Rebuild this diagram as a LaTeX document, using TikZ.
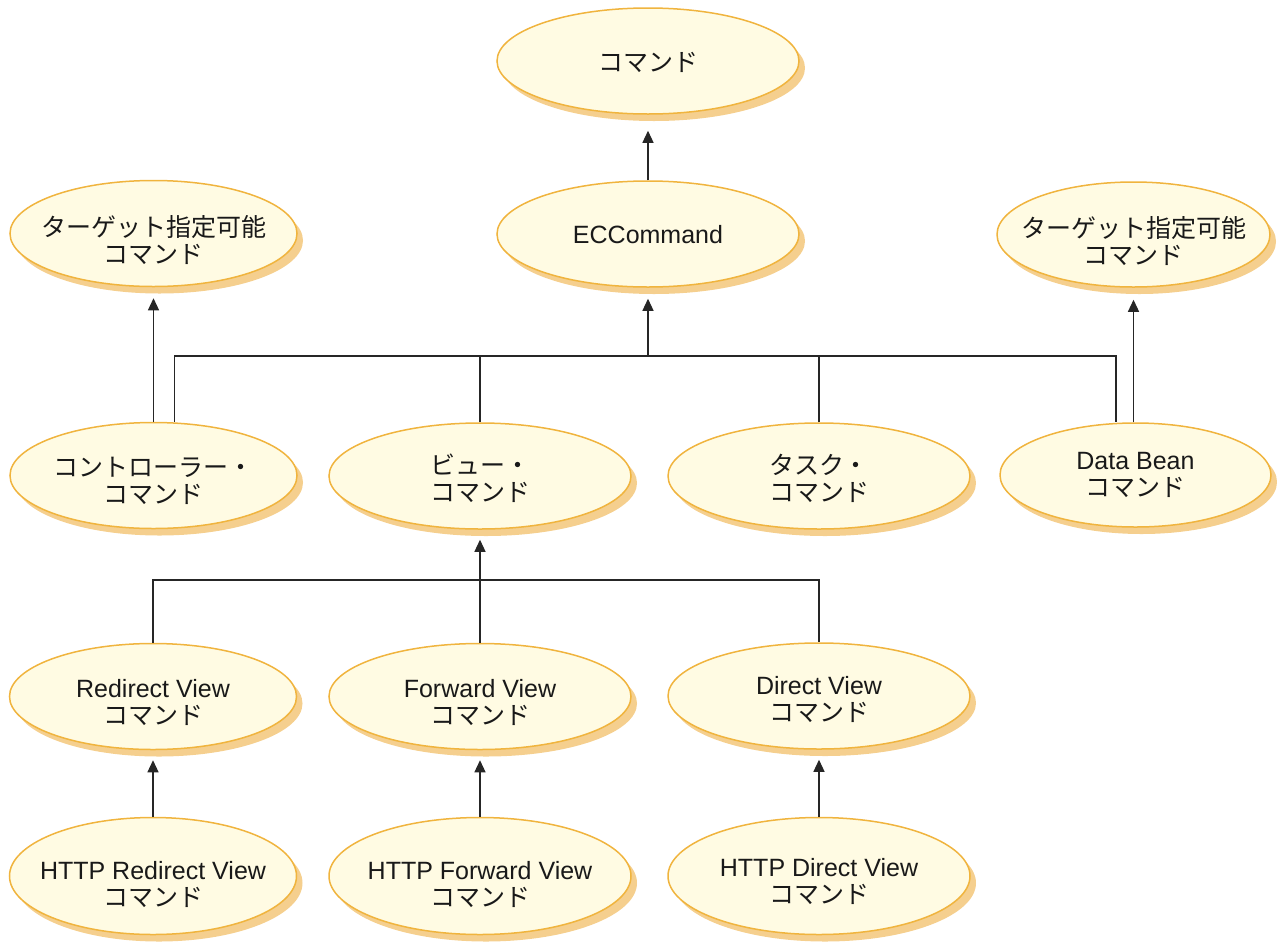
\documentclass[tikz,border=0pt]{standalone}
\usepackage{fontspec}
\setmainfont{Liberation Sans}
\newfontfamily\jp{Noto Sans CJK JP}
\usetikzlibrary{shapes.geometric,arrows.meta,shadows}
\definecolor{fillc}{HTML}{FFFBE3}
\definecolor{bord}{HTML}{F0B43E}
\definecolor{shadc}{HTML}{F5CF8E}
\definecolor{linec}{HTML}{262626}
\begin{document}
\begin{tikzpicture}[x=1pt,y=-1pt,
  ell/.style={ellipse, draw=bord, line width=1.5pt, fill=fillc, inner sep=0pt,
    drop shadow={shadow xshift=6pt, shadow yshift=-7pt, fill=shadc, opacity=1, draw=none}},
  lbl/.style={align=center, inner sep=0pt, font=\fontsize{25}{27}\selectfont, text=black!90},
  wide/.style={minimum width=302pt, minimum height=106pt},
  narrow/.style={minimum width=287pt, minimum height=106pt},
  tall/.style={minimum height=117pt},
  ln/.style={draw=linec, line width=1.2pt},
  arr/.style={ln, -{Triangle[width=11pt,length=12pt]}}
]
\useasboundingbox (0,0) rectangle (1277,943);

% nodes
\node[ell,wide,label={[lbl,yshift=-1pt]center:{\jp コマンド}}] (cmd) at (648,61) {};
\node[ell,wide,label={[lbl,yshift=-1pt]center:{ECCommand}}] (ec) at (648,234) {};
\node[ell,narrow,label={[lbl,yshift=-7pt]center:{\jp ターゲット指定可能\\\jp コマンド}}] (tl) at (153.5,233.5) {};
\node[ell,minimum width=273pt,minimum height=105pt,label={[lbl,yshift=-7pt]center:{\jp ターゲット指定可能\\\jp コマンド}}] (tr) at (1133.5,234.5) {};

\node[ell,narrow,label={[lbl,yshift=-5.5pt]center:{\jp コントローラー・\\\jp コマンド}}] (ctrl) at (153.5,475.5) {};
\node[ell,wide,label={[lbl,yshift=-2pt]center:{\jp ビュー・\\\jp コマンド}}] (view) at (480,476) {};
\node[ell,wide,label={[lbl,yshift=-2pt]center:{\jp タスク・\\\jp コマンド}}] (task) at (819,476) {};
\node[ell,minimum width=271pt,minimum height=104pt,label={[lbl,yshift=0pt]center:{Data Bean\\\jp コマンド}}] (db) at (1135.5,475) {};

\node[ell,narrow,label={[lbl,yshift=-6pt]center:{Redirect View\\\jp コマンド}}] (redir) at (153,696.5) {};
\node[ell,wide,label={[lbl,yshift=-5.5pt]center:{Forward View\\\jp コマンド}}] (fwd) at (480,696.5) {};
\node[ell,wide,label={[lbl,yshift=-3.5pt]center:{Direct View\\\jp コマンド}}] (direct) at (819,696) {};

\node[ell,narrow,tall,label={[lbl,yshift=-8pt]center:{HTTP Redirect View\\\jp コマンド}}] (hredir) at (153,876) {};
\node[ell,wide,tall,label={[lbl,yshift=-8pt]center:{HTTP Forward View\\\jp コマンド}}] (hfwd) at (480,876) {};
\node[ell,wide,tall,label={[lbl,yshift=-5pt]center:{HTTP Direct View\\\jp コマンド}}] (hdirect) at (819,876) {};

% bus coordinates
\coordinate (bus1) at (648,356);
\coordinate (bus2) at (480,580);

% connectors
\draw[arr] (ec.north) -- ([yshift=-16pt]cmd.south);
\draw[ln] ([xshift=21pt]ctrl.north) |- (bus1) -| ([xshift=-19.5pt]db.north);
\draw[ln] (view.north) -- (view.north |- bus1);
\draw[ln] (task.north) -- (task.north |- bus1);
\draw[arr] (bus1) -- ([yshift=-11pt]ec.south);
\draw[arr] (ctrl.north) -- ([yshift=-11pt]tl.south);
\draw[arr] (tr.south |- db.north) -- ([yshift=-12pt]tr.south);

\draw[ln] (redir.north) |- (bus2) -| (direct.north);
\draw[ln] (fwd.north) -- (bus2);
\draw[arr] (bus2) -- ([yshift=-10pt]view.south);

\draw[arr] (hredir.north) -- ([yshift=-10pt]redir.south);
\draw[arr] (hfwd.north) -- ([yshift=-10pt]fwd.south);
\draw[arr] (hdirect.north) -- ([yshift=-10pt]direct.south);
\end{tikzpicture}
\end{document}
